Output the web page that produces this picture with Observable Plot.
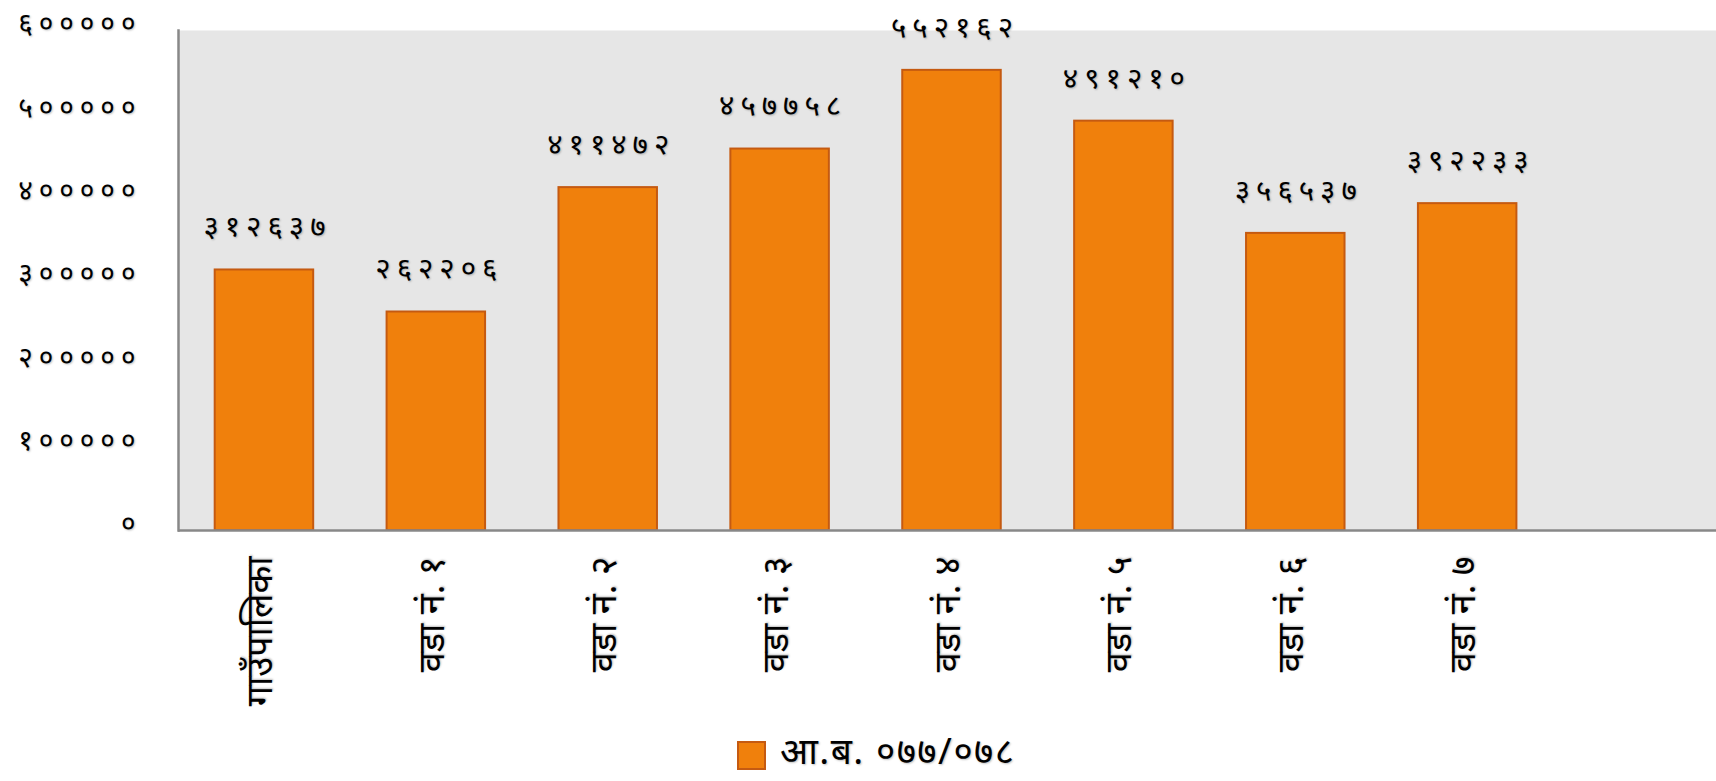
<!DOCTYPE html>
<html>
<head>
<meta charset="utf-8">
<script src="https://cdn.jsdelivr.net/npm/d3@7"></script>
<script src="https://cdn.jsdelivr.net/npm/@observablehq/plot@0.6"></script>
<style>
  html, body { margin: 0; padding: 0; background: #fff; }
  body { width: 1716px; height: 781px; overflow: hidden; position: relative; font-family: "Noto Sans", "Noto Sans Devanagari", sans-serif; }
  #chart { position: absolute; left: 0; top: 0; }
  #legend .sw { position: absolute; left: 737px; top: 741px; width: 25px; height: 25px; background: #F0800C; border: 2px solid #C55A11; }
  #legend .lt { position: absolute; left: 780px; top: 730px; font-size: 37px; line-height: 40px; color: #000; letter-spacing: 1.5px; text-shadow: 1px 1px 2px rgba(0,0,0,0.25); white-space: nowrap; }
  svg text { text-shadow: 1px 1px 2px rgba(0,0,0,0.25); }
  .ytick text { letter-spacing: 6px; }
  .vlabel { letter-spacing: 6px; }
</style>
</head>
<body>
<div id="chart"></div>
<div id="legend"><span class="sw"></span><span class="lt" id="legendText"></span></div>
<script>
const categories = ["गाउँपालिका", "वडा नं. १", "वडा नं. २", "वडा नं. ३", "वडा नं. ४", "वडा नं. ५", "वडा नं. ६", "वडा नं. ७"];
const values = [312637, 262206, 411472, 457758, 552162, 491210, 356537, 392233];
const yTicks = [0, 100000, 200000, 300000, 400000, 500000, 600000];
const seriesName = "आ.ब. ०७७/०७८";

const devDigits = "०१२३४५६७८९";
const toDev = n => String(n).replace(/[0-9]/g, d => devDigits[+d]);

const data = categories.map((c, i) => ({category: c, value: values[i]}));

const chart = Plot.plot({
  width: 1716,
  height: 730,
  marginTop: 30,
  marginBottom: 200,
  marginLeft: 178,
  marginRight: 0,
  style: {fontFamily: "'Noto Sans', 'Noto Sans Devanagari', sans-serif", background: "transparent", color: "#000"},
  x: {domain: [...categories, " "], range: [178, 1725], round: false, paddingInner: 0.427, paddingOuter: 0.2135, label: null},
  y: {domain: [0, 600000], label: null},
  marks: [
    Plot.frame({fill: "#E6E6E6", stroke: null}),
    Plot.barY(data, {x: "category", y: "value", fill: "#F0800C", stroke: "#C55A11", strokeWidth: 2}),
    Plot.text(data, {x: "category", y: "value", text: d => toDev(d.value), dy: -43, dx: 3, fontSize: 29.5, fill: "#000", className: "vlabel"}),
    Plot.axisY({ticks: yTicks, tickFormat: toDev, tickSize: 0, tickPadding: 37, fontSize: 28, dy: -6, className: "ytick"}),
    Plot.axisX({tickRotate: -90, tickSize: 0, tickPadding: 26, fontSize: 36, dx: -4, tickFormat: d => d.trim() ? d : ""}),
    Plot.ruleY([0], {stroke: "#888", strokeWidth: 2.5}),
    Plot.frame({anchor: "left", stroke: "#888", strokeWidth: 2.5})
  ]
});
document.getElementById("chart").appendChild(chart);
document.getElementById("legendText").textContent = seriesName;
</script>
</body>
</html>
